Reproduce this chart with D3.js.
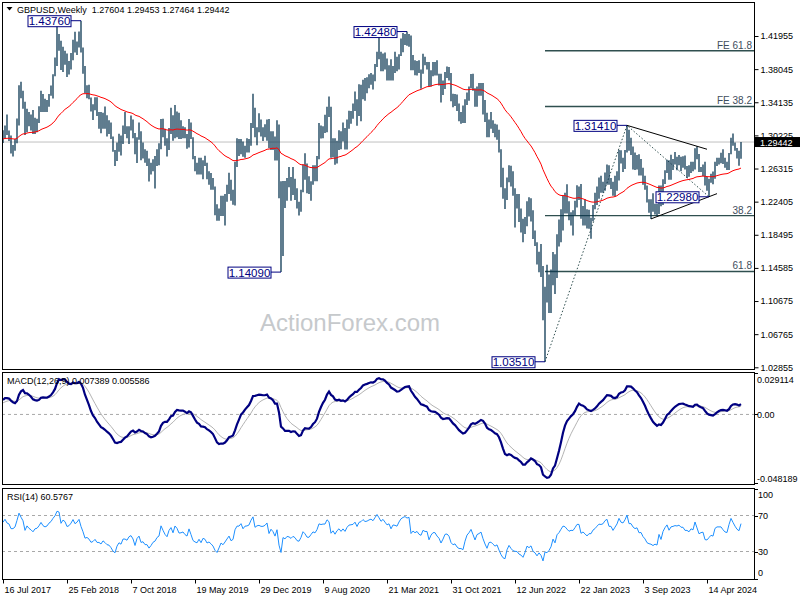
<!DOCTYPE html>
<html>
<head>
<meta charset="utf-8">
<title>GBPUSD Weekly</title>
<script src="https://cdn.jsdelivr.net/npm/d3@7"></script>
<style>
body{margin:0;background:#ffffff}
#chart{display:block;font-family:"Liberation Sans",Arial,sans-serif;font-size:9px}
</style>
</head>
<body>
<svg id="chart" width="800" height="600"></svg>
<script>
// weekly bars, first one is the week of 16 Jul 2017
var startWeek="2017-07-16"

var weekHigh=[
1.3084,1.3140,1.3268,1.3080,1.3020,1.2910,1.2980,1.3223,1.3615,1.3657,
1.3550,1.3420,1.3338,1.3300,1.3270,1.3321,1.3230,1.3220,1.3365,1.3549,
1.3510,1.3456,1.3440,1.3510,1.3612,1.3743,1.3943,1.4345,1.4220,1.4140,
1.4070,1.4020,1.3990,1.3900,1.3995,1.4150,1.4245,1.4130,1.4250,1.4376,
1.4060,1.3840,1.3615,1.3620,1.3470,1.3390,1.3473,1.3472,1.3300,1.3300,
1.3290,1.3362,1.3260,1.3200,1.3175,1.3010,1.2850,1.2940,1.3043,1.3020,
1.3140,1.3298,1.3130,1.3130,1.3258,1.3210,1.3050,1.3000,1.3175,1.3070,
1.2940,1.2860,1.2840,1.2750,1.2700,1.2740,1.2780,1.2860,1.2930,1.3215,
1.3218,1.3100,1.2990,1.3110,1.3350,1.3260,1.3381,1.3305,1.3290,1.3200,
1.3130,1.3120,1.3040,1.3215,1.3175,1.3000,1.2780,1.2700,1.2760,1.2760,
1.2730,1.2783,1.2700,1.2600,1.2580,1.2520,1.2420,1.2210,1.2160,1.2310,
1.2310,1.2330,1.2440,1.2582,1.2500,1.2380,1.2710,1.2989,1.2980,1.2980,
1.2950,1.2900,1.2990,1.2980,1.3170,1.3514,1.3350,1.3120,1.3285,1.3210,
1.3120,1.3155,1.3210,1.3215,1.3070,1.3070,1.3010,1.3200,1.3150,1.2480,
1.2485,1.2485,1.2520,1.2648,1.2530,1.2648,1.2510,1.2400,1.2240,1.2380,
1.2680,1.2813,1.2690,1.2540,1.2480,1.2670,1.2670,1.2780,1.3170,1.3140,
1.3130,1.3267,1.3360,1.3482,1.3360,1.2990,1.2990,1.2960,1.3083,1.3070,
1.3175,1.3110,1.3210,1.3312,1.3310,1.3400,1.3540,1.3450,1.3625,1.3620,
1.3680,1.3700,1.3710,1.3745,1.3760,1.3740,1.3865,1.4010,1.4241,1.4010,
1.3990,1.4000,1.3930,1.3850,1.3920,1.3840,1.4010,1.3950,1.3980,1.4165,
1.4230,1.4220,1.4248,1.4220,1.4200,1.3970,1.3910,1.3900,1.3910,1.3800,
1.3985,1.3950,1.3890,1.3890,1.3790,1.3890,1.3890,1.3910,1.3750,1.3750,
1.3670,1.3770,1.3835,1.3830,1.3760,1.3515,1.3510,1.3505,1.3400,1.3300,
1.3375,1.3450,1.3530,1.3600,1.3748,1.3750,1.3580,1.3600,1.3640,1.3640,
1.3640,1.3440,1.3290,1.3210,1.3300,1.3200,1.3160,1.3150,1.3090,1.2860,
1.2640,1.2400,1.2525,1.2670,1.2665,1.2600,1.2400,1.2330,1.2330,1.2160,
1.2040,1.2060,1.2245,1.2293,1.2280,1.2140,1.1900,1.1760,1.1650,1.1740,
1.1480,1.1235,1.1495,1.1380,1.1440,1.1645,1.1620,1.1855,1.2030,1.2150,
1.2310,1.2345,1.2446,1.2245,1.2115,1.2140,1.2250,1.2435,1.2420,1.2448,
1.2190,1.2270,1.2150,1.2145,1.2050,1.2200,1.2345,1.2420,1.2525,1.2545,
1.2475,1.2585,1.2680,1.2670,1.2520,1.2475,1.2545,1.2600,1.2850,1.2848,
1.2760,1.2850,1.3141,1.3090,1.2995,1.2890,1.2820,1.2790,1.2800,1.2745,
1.2640,1.2545,1.2430,1.2270,1.2270,1.2340,1.2215,1.2215,1.2430,1.2430,
1.2505,1.2610,1.2735,1.2730,1.2794,1.2745,1.2827,1.2770,1.2790,1.2770,
1.2775,1.2785,1.2660,1.2670,1.2710,1.2710,1.2870,1.2894,1.2803,1.2650,
1.2680,1.2710,1.2530,1.2510,1.2570,1.2595,1.2710,1.2760,1.2760,1.2817,
1.2860,1.2760,1.2710,1.2815,1.2995,1.3044,1.2940,1.2875,1.2840,1.29453]

var weekLow=[
1.2932,1.2985,1.3026,1.2955,1.2810,1.2774,1.2840,1.2930,1.3140,1.3460,
1.3338,1.3027,1.3060,1.3130,1.3080,1.3040,1.3040,1.3060,1.3170,1.3300,
1.3300,1.3300,1.3300,1.3360,1.3490,1.3459,1.3720,1.3840,1.4020,1.3795,
1.3770,1.3855,1.3711,1.3740,1.3800,1.3910,1.4000,1.3970,1.4060,1.4000,
1.3750,1.3520,1.3460,1.3450,1.3305,1.3205,1.3320,1.3250,1.3102,1.3049,
1.3100,1.3100,1.3010,1.3040,1.2980,1.2830,1.2662,1.2720,1.2830,1.2785,
1.2920,1.3040,1.2990,1.2922,1.3080,1.2990,1.2800,1.2696,1.2970,1.2730,
1.2750,1.2700,1.2660,1.2477,1.2560,1.2600,1.2395,1.2660,1.2670,1.2860,
1.3000,1.2900,1.2773,1.2850,1.3040,1.2960,1.2990,1.3000,1.2980,1.2980,
1.2990,1.2990,1.2866,1.2880,1.2980,1.2740,1.2600,1.2560,1.2560,1.2560,
1.2505,1.2660,1.2505,1.2439,1.2382,1.2380,1.2080,1.2015,1.2015,1.2070,
1.2070,1.1959,1.2240,1.2330,1.2250,1.2205,1.2195,1.2650,1.2780,1.2800,
1.2770,1.2760,1.2820,1.2820,1.2900,1.3110,1.3000,1.2905,1.3060,1.3010,
1.2955,1.3000,1.2960,1.2870,1.2850,1.2850,1.2725,1.2725,1.2280,1.1409,
1.1600,1.2165,1.2250,1.2410,1.2250,1.2320,1.2260,1.2160,1.2076,1.2120,
1.2350,1.2500,1.2340,1.2330,1.2252,1.2440,1.2480,1.2480,1.2740,1.2985,
1.2990,1.3050,1.3060,1.3240,1.2760,1.2765,1.2676,1.2690,1.2850,1.2860,
1.2950,1.2855,1.2855,1.3100,1.3160,1.3220,1.3310,1.3135,1.3250,1.3188,
1.3450,1.3430,1.3520,1.3580,1.3620,1.3565,1.3660,1.3830,1.3920,1.3780,
1.3780,1.3800,1.3670,1.3670,1.3670,1.3670,1.3760,1.3780,1.3800,1.3960,
1.4005,1.4090,1.4080,1.4070,1.3790,1.3790,1.3732,1.3730,1.3760,1.3572,
1.3750,1.3850,1.3800,1.3600,1.3600,1.3720,1.3730,1.3730,1.3610,1.3412,
1.3500,1.3570,1.3700,1.3670,1.3425,1.3355,1.3370,1.3310,1.3190,1.3161,
1.3170,1.3170,1.3380,1.3430,1.3580,1.3550,1.3360,1.3360,1.3490,1.3490,
1.3270,1.3180,1.3000,1.3000,1.3100,1.3050,1.3000,1.2970,1.2820,1.2410,
1.2275,1.2155,1.2260,1.2470,1.2420,1.2310,1.1934,1.2160,1.2000,1.1875,
1.1760,1.1860,1.1950,1.2065,1.2005,1.1800,1.1717,1.1500,1.1406,1.1350,
1.0840,1.0351,1.1050,1.0925,1.0925,1.1255,1.1150,1.1340,1.1710,1.1760,
1.1900,1.2100,1.2100,1.2020,1.1960,1.1841,1.2080,1.2170,1.2260,1.2040,
1.1960,1.1960,1.1925,1.1920,1.1803,1.2010,1.2150,1.2200,1.2275,1.2345,
1.2345,1.2370,1.2440,1.2440,1.2390,1.2310,1.2300,1.2370,1.2490,1.2690,
1.2590,1.2625,1.2820,1.2840,1.2790,1.2620,1.2615,1.2620,1.2550,1.2550,
1.2440,1.2380,1.2230,1.2110,1.2037,1.2120,1.2090,1.2070,1.2095,1.2185,
1.2200,1.2450,1.2580,1.2500,1.2500,1.2615,1.2680,1.2610,1.2670,1.2600,
1.2640,1.2620,1.2520,1.2535,1.2580,1.2600,1.2620,1.2740,1.2590,1.2590,
1.2540,1.2430,1.2370,1.2299,1.2465,1.2445,1.2510,1.2660,1.2680,1.2695,
1.2685,1.2640,1.2615,1.2615,1.2800,1.2900,1.2840,1.2750,1.2665,1.27464]

var weekClose=[
1.2995,1.3134,1.3036,1.3010,1.2880,1.2880,1.2938,1.3200,1.3613,1.3500,
1.3396,1.3066,1.3286,1.3192,1.3137,1.3060,1.3190,1.3212,1.3320,1.3480,
1.3380,1.3340,1.3380,1.3500,1.3570,1.3725,1.3860,1.4160,1.4140,1.3820,
1.4000,1.3950,1.3790,1.3830,1.3950,1.4140,1.4010,1.4090,1.4240,1.4010,
1.3810,1.3520,1.3550,1.3470,1.3310,1.3340,1.3410,1.3270,1.3270,1.3200,
1.3290,1.3220,1.3130,1.3110,1.3000,1.2830,1.2740,1.2900,1.2990,1.2930,
1.3070,1.3070,1.3030,1.3120,1.3150,1.3050,1.2815,1.3000,1.3070,1.2830,
1.2850,1.2730,1.2730,1.2580,1.2640,1.2720,1.2750,1.2840,1.2880,1.3200,
1.3070,1.2940,1.2860,1.3070,1.3180,1.3010,1.3290,1.3210,1.3040,1.3050,
1.3080,1.2990,1.2940,1.3190,1.2990,1.2740,1.2670,1.2630,1.2740,1.2590,
1.2730,1.2690,1.2530,1.2560,1.2480,1.2380,1.2160,1.2030,1.2150,1.2290,
1.2210,1.2290,1.2380,1.2470,1.2290,1.2330,1.2670,1.2830,1.2830,1.2940,
1.2780,1.2890,1.2900,1.2940,1.3150,1.3330,1.3010,1.3080,1.3100,1.3070,
1.3070,1.3110,1.3200,1.2890,1.3050,1.2970,1.2810,1.3050,1.2280,1.1640,
1.2460,1.2350,1.2510,1.2480,1.2370,1.2490,1.2400,1.2200,1.2160,1.2350,
1.2670,1.2550,1.2350,1.2340,1.2480,1.2620,1.2570,1.2740,1.3090,1.3060,
1.3090,1.3090,1.3350,1.3280,1.2790,1.2920,1.2750,1.2930,1.3040,1.2920,
1.3050,1.2940,1.3150,1.3280,1.3300,1.3320,1.3440,1.3290,1.3510,1.3550,
1.3670,1.3610,1.3630,1.3690,1.3730,1.3690,1.3840,1.4010,1.3930,1.3840,
1.3930,1.3860,1.3790,1.3830,1.3700,1.3840,1.3830,1.3810,1.3960,1.4090,
1.4150,1.4190,1.4160,1.4190,1.3800,1.3880,1.3830,1.3870,1.3790,1.3760,
1.3900,1.3870,1.3870,1.3640,1.3760,1.3830,1.3830,1.3740,1.3680,1.3530,
1.3620,1.3740,1.3750,1.3690,1.3500,1.3420,1.3440,1.3330,1.3270,1.3270,
1.3230,1.3390,1.3530,1.3590,1.3680,1.3550,1.3390,1.3530,1.3560,1.3600,
1.3410,1.3220,1.3030,1.3180,1.3190,1.3110,1.3030,1.3060,1.2830,1.2570,
1.2340,1.2260,1.2490,1.2620,1.2450,1.2310,1.2270,1.2260,1.2100,1.2030,
1.1870,1.1990,1.2160,1.2080,1.2130,1.1830,1.1730,1.1510,1.1590,1.1410,
1.0860,1.1160,1.1090,1.1170,1.1300,1.1610,1.1380,1.1770,1.1890,1.2090,
1.2290,1.2260,1.2150,1.2050,1.2100,1.2090,1.2230,1.2400,1.2400,1.2050,
1.2110,1.2030,1.1940,1.2030,1.2030,1.2170,1.2230,1.2330,1.2420,1.2410,
1.2440,1.2570,1.2630,1.2450,1.2450,1.2340,1.2450,1.2570,1.2820,1.2720,
1.2700,1.2840,1.3090,1.2850,1.2850,1.2750,1.2700,1.2730,1.2580,1.2590,
1.2460,1.2380,1.2240,1.2200,1.2180,1.2130,1.2160,1.2130,1.2380,1.2220,
1.2460,1.2600,1.2710,1.2550,1.2680,1.2700,1.2730,1.2720,1.2750,1.2700,
1.2700,1.2630,1.2630,1.2600,1.2670,1.2650,1.2860,1.2740,1.2600,1.2630,
1.2640,1.2450,1.2440,1.2490,1.2540,1.2520,1.2700,1.2740,1.2740,1.2740,
1.2690,1.2650,1.2640,1.2810,1.2990,1.2920,1.2850,1.2790,1.2760,1.29442]

var emaSeed=1.298
var ema12Seed=1.287
var ema26Seed=1.277
var signalSeed=0.0076
var gainSeed=0.0075
var lossSeed=0.0045

var priceTicks=[1.41955,1.38045,1.34135,1.30225,1.26315,1.22405,1.18495,1.14585,1.10675,1.06765,1.02855]
var timeTicks=["2017-07-16","2018-02-25","2018-10-07","2019-05-19","2019-12-29","2020-08-09",
               "2021-03-21","2021-10-31","2022-06-12","2023-01-22","2023-09-03","2024-04-14"]
var macdTicks=[0.029114,0,-0.048189]
var macdTickText=["0.029114","0.00","-0.048189"]
var rsiTicks=[100,70,30,0]
var rsiLevels=[70,30]

var pivotDates=["2018-04-15","2021-05-30","2020-03-15","2022-09-25","2023-07-09","2024-04-21"]
var pivotPrices=[1.4376,1.4248,1.1409,1.0351,1.3141,1.2298]

// fibonacci: low, high, pullback
var fiboDates=["2022-09-25","2023-07-09","2024-04-21"]
var fiboPrices=[1.0351,1.3141,1.2298]
var fiboRatios=[0.382,0.618]

var trendFrom=[["2023-07-09",1.3141],["2023-10-01",1.2037]]
var trendTo=[["2024-04-14",1.2859],["2024-05-19",1.2335]]

var lastQuote=1.29442
var titleText="GBPUSD,Weekly  1.27604 1.29453 1.27464 1.29442"
var macdTitle="MACD(12,26,9) 0.007389 0.005586"
var rsiTitle="RSI(14) 60.5767"

var parseDay=d3.utcParse("%Y-%m-%d")

var initChart=function()
    {
        var frame={left:2,right:754}
        var panes=
            {
                price:{top:2,bottom:369},
                macd:{top:372,bottom:484},
                rsi:{top:488,bottom:579}
            }
        var svg=d3.select("#chart")

        var first=parseDay(startWeek)
        var weeks=weekClose.map(function(c,i){return d3.utcWeek.offset(first,i)})

        var xScale=d3.scaleUtc()
            .domain([weeks[0],weeks[weeks.length-1]])
            .range([3,741])
        var yPrice=d3.scaleLinear()
            .domain([1.02855,1.41955])
            .range([367.3,36])
        var yMacd=d3.scaleLinear()
            .domain([-0.048189,0.029114])
            .range([483,373])
        var yRsi=d3.scaleLinear()
            .domain([0,100])
            .range([578.5,488.5])

        var ind=calcIndicators()

        Object.keys(panes).forEach(function(k)
            {
                svg.append("clipPath").attr("id","clip-"+k)
                    .append("rect")
                    .attr("x",frame.left).attr("y",panes[k].top)
                    .attr("width",frame.right-frame.left)
                    .attr("height",panes[k].bottom-panes[k].top)
            })

        drawPrice(svg,weeks,xScale,yPrice,ind,frame,panes.price)
        drawMacd(svg,weeks,xScale,yMacd,ind,frame,panes.macd)
        drawRsi(svg,weeks,xScale,yRsi,ind,frame,panes.rsi)
        drawAxes(svg,xScale,yPrice,yMacd,yRsi,frame,panes)
    }

var calcIndicators=function()
    {
        var ema=emaSeed,e12=ema12Seed,e26=ema26Seed,sig=signalSeed
        var g=gainSeed,l=lossSeed
        var out={ema:[],macd:[],signal:[],rsi:[]}
        weekClose.forEach(function(c,i)
            {
                ema=ema+(c-ema)*2/56
                e12=e12+(c-e12)*2/13
                e26=e26+(c-e26)*2/27
                var m=e12-e26
                sig=sig+(m-sig)*2/10
                var prev=i>0?weekClose[i-1]:c
                var ch=c-prev
                g=(g*13+Math.max(ch,0))/14
                l=(l*13+Math.max(-ch,0))/14
                out.ema.push(ema)
                out.macd.push(m)
                out.signal.push(sig)
                out.rsi.push(100-100/(1+g/l))
            })
        return out
    }

var drawPrice=function(svg,weeks,xScale,yScale,ind,frame,pane)
    {
        var g=svg.append("g").attr("clip-path","url(#clip-price)")

        // watermark
        g.append("text")
            .text("ActionForex.com")
            .attr("x",350).attr("y",331)
            .attr("text-anchor","middle")
            .style("font-size","24px")
            .attr("fill","#c6c9cc")

        // last price line
        g.append("line")
            .attr("x1",frame.left).attr("x2",frame.right)
            .attr("y1",yScale(lastQuote)).attr("y2",yScale(lastQuote))
            .attr("stroke","#c0c0c0")

        // fibonacci levels
        var lo=fiboPrices[0],hi=fiboPrices[1],pb=fiboPrices[2]
        var levels=[]
        fiboRatios.forEach(function(r)
            {
                levels.push({p:hi-r*(hi-lo),t:d3.format(".1f")(r*100)})
                levels.push({p:pb+r*(hi-lo),t:"FE "+d3.format(".1f")(r*100)})
            })
        var fx=xScale(parseDay(fiboDates[0]))
        g.selectAll(".fibo")
            .data(levels)
            .enter()
            .append("line")
            .attr("x1",fx).attr("x2",frame.right)
            .attr("y1",function(d){return yScale(d.p)})
            .attr("y2",function(d){return yScale(d.p)})
            .attr("stroke","#2f4f4f")
            .attr("stroke-width",1.4)
        g.selectAll(".fibolabel")
            .data(levels)
            .enter()
            .append("text")
            .text(function(d){return d.t})
            .attr("x",frame.right-2)
            .attr("y",function(d){return yScale(d.p)-2})
            .attr("text-anchor","end")
            .style("font-size","10px")
            .attr("fill","#3e4d5c")

        var fLine=d3.line()
            .x(function(d,i){return xScale(parseDay(fiboDates[i]))})
            .y(function(d){return yScale(d)})
        g.append("path")
            .attr("d",fLine(fiboPrices))
            .attr("fill","none")
            .attr("stroke","#2f4f4f")
            .attr("stroke-dasharray","1.5,2")

        // bars
        g.selectAll(".bar")
            .data(weekClose)
            .enter()
            .append("line")
            .attr("x1",function(d,i){return xScale(weeks[i])})
            .attr("x2",function(d,i){return xScale(weeks[i])})
            .attr("y1",function(d,i){return yScale(weekHigh[i])})
            .attr("y2",function(d,i){return yScale(weekLow[i])})
            .attr("stroke","#0a3652")
            .attr("stroke-width",1.3)

        // 55 week ema
        var eLine=d3.line()
            .x(function(d,i){return xScale(weeks[i])})
            .y(function(d){return yScale(d)})
        g.append("path")
            .attr("d",eLine(ind.ema))
            .attr("fill","none")
            .attr("stroke","#ff0000")
            .attr("stroke-width",1)

        // triangle
        g.selectAll(".trend")
            .data(trendFrom)
            .enter()
            .append("line")
            .attr("x1",function(d){return xScale(parseDay(d[0]))})
            .attr("y1",function(d){return yScale(d[1])})
            .attr("x2",function(d,i){return xScale(parseDay(trendTo[i][0]))})
            .attr("y2",function(d,i){return yScale(trendTo[i][1])})
            .attr("stroke","#000000")
            .attr("stroke-width",1)

        // pivot labels
        var piv=g.selectAll(".pivot")
            .data(pivotPrices)
            .enter()
            .append("g")
        piv.append("line")
            .attr("x1",function(d,i){return xScale(parseDay(pivotDates[i]))-10})
            .attr("x2",function(d,i){return xScale(parseDay(pivotDates[i]))})
            .attr("y1",function(d){return yScale(d)})
            .attr("y2",function(d){return yScale(d)})
            .attr("stroke","#000080")
        piv.append("rect")
            .attr("x",function(d,i){return xScale(parseDay(pivotDates[i]))-53})
            .attr("y",function(d){return yScale(d)-5})
            .attr("width",43)
            .attr("height",11)
            .attr("fill","#ffffff")
            .attr("stroke","#000080")
        piv.append("text")
            .text(function(d){return d3.format(".5f")(d)})
            .attr("x",function(d,i){return xScale(parseDay(pivotDates[i]))-31.5})
            .attr("y",function(d){return yScale(d)+4.5})
            .attr("text-anchor","middle")
            .style("font-size","11.5px")
            .attr("fill","#000080")

        // title
        svg.append("path")
            .attr("d","M6.5,7 L12.5,7 L9.5,10.5 Z")
            .attr("fill","#000")
        svg.append("text")
            .text(titleText)
            .attr("x",17).attr("y",12.5)
            .attr("xml:space","preserve")
            .attr("fill","#000")
    }

var drawMacd=function(svg,weeks,xScale,yScale,ind,frame,pane)
    {
        var g=svg.append("g").attr("clip-path","url(#clip-macd)")
        g.append("line")
            .attr("x1",frame.left).attr("x2",frame.right)
            .attr("y1",yScale(0)).attr("y2",yScale(0))
            .attr("stroke","#a8a8a8")
            .attr("stroke-dasharray","3,3")
        var line=d3.line()
            .x(function(d,i){return xScale(weeks[i])})
            .y(function(d){return yScale(d)})
        g.append("path")
            .attr("d",line(ind.signal))
            .attr("fill","none")
            .attr("stroke","#b4b4b4")
            .attr("stroke-width",1)
        g.append("path")
            .attr("d",line(ind.macd))
            .attr("fill","none")
            .attr("stroke","#000080")
            .attr("stroke-width",2.2)
        svg.append("text")
            .text(macdTitle)
            .attr("x",7).attr("y",pane.top+12)
            .attr("fill","#000")
    }

var drawRsi=function(svg,weeks,xScale,yScale,ind,frame,pane)
    {
        var g=svg.append("g").attr("clip-path","url(#clip-rsi)")
        g.selectAll(".lvl")
            .data(rsiLevels)
            .enter()
            .append("line")
            .attr("x1",frame.left).attr("x2",frame.right)
            .attr("y1",function(d){return yScale(d)})
            .attr("y2",function(d){return yScale(d)})
            .attr("stroke","#a8a8a8")
            .attr("stroke-dasharray","3,3")
        var line=d3.line()
            .x(function(d,i){return xScale(weeks[i])})
            .y(function(d){return yScale(d)})
        g.append("path")
            .attr("d",line(ind.rsi))
            .attr("fill","none")
            .attr("stroke","#1e90ff")
            .attr("stroke-width",1)
        svg.append("text")
            .text(rsiTitle)
            .attr("x",7).attr("y",pane.top+12)
            .attr("fill","#000")
    }

var drawAxes=function(svg,xScale,yPrice,yMacd,yRsi,frame,panes)
    {
        // pane frames
        Object.keys(panes).forEach(function(k)
            {
                svg.append("rect")
                    .attr("x",frame.left+0.5).attr("y",panes[k].top+0.5)
                    .attr("width",frame.right-frame.left)
                    .attr("height",panes[k].bottom-panes[k].top)
                    .attr("fill","none")
                    .attr("stroke","#000")
            })

        var pAxis=d3.axisRight(yPrice)
            .tickValues(priceTicks)
            .tickFormat(d3.format(".5f"))
            .tickSize(4)
            .tickPadding(2)
        var pa=svg.append("g")
            .attr("transform","translate("+(frame.right+0.5)+",0)")
            .call(pAxis)
        pa.select(".domain").remove()
        pa.selectAll("text").style("font-size","9px").attr("fill","#000")

        // last quote box, drawn over the axis label it covers as in the terminal
        var yq=yPrice(lastQuote)
        svg.append("rect")
            .attr("x",frame.right+1).attr("y",yq-5)
            .attr("width",800-frame.right).attr("height",10)
            .attr("fill","#000")
        svg.append("text")
            .text(d3.format(".5f")(lastQuote))
            .attr("x",frame.right+6).attr("y",yq+3.5)
            .attr("fill","#fff")

        // macd scale
        var mg=svg.append("g")
        mg.selectAll("line")
            .data(macdTicks)
            .enter()
            .append("line")
            .attr("x1",frame.right).attr("x2",frame.right+4)
            .attr("y1",function(d){return Math.round(yMacd(d))+0.5})
            .attr("y2",function(d){return Math.round(yMacd(d))+0.5})
            .attr("stroke","#000")
        mg.selectAll("text")
            .data(macdTicks)
            .enter()
            .append("text")
            .text(function(d,i){return macdTickText[i]})
            .attr("x",frame.right+3)
            .attr("y",function(d)
                {
                    var y=Math.max(panes.macd.top+7,Math.min(panes.macd.bottom-6,yMacd(d)))
                    return y+3.5
                })
            .attr("fill","#000")

        // rsi scale
        var rg=svg.append("g")
        rg.selectAll("line")
            .data(rsiTicks)
            .enter()
            .append("line")
            .attr("x1",frame.right).attr("x2",frame.right+4)
            .attr("y1",function(d){return Math.round(yRsi(d))+0.5})
            .attr("y2",function(d){return Math.round(yRsi(d))+0.5})
            .attr("stroke","#000")
        rg.selectAll("text")
            .data(rsiTicks)
            .enter()
            .append("text")
            .text(function(d){return d})
            .attr("x",frame.right+4)
            .attr("y",function(d)
                {
                    var y=Math.max(panes.rsi.top+6,Math.min(panes.rsi.bottom-7,yRsi(d)))
                    return y+3.5
                })
            .attr("fill","#000")

        // time axis
        var tAxis=d3.axisBottom(xScale)
            .tickValues(timeTicks.map(parseDay))
            .tickFormat(d3.utcFormat("%-d %b %Y"))
            .tickSize(4)
            .tickPadding(3)
        var ta=svg.append("g")
            .attr("transform","translate(0,"+(panes.rsi.bottom+0.5)+")")
            .call(tAxis)
        ta.select(".domain").remove()
        ta.selectAll("text")
            .attr("text-anchor","start")
            .attr("x",1)
            .style("font-size","9px")
            .attr("fill","#000")
    }

initChart()
</script>
</body>
</html>
